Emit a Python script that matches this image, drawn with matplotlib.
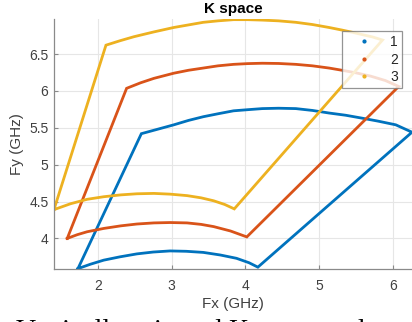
import matplotlib
matplotlib.use("Agg")
import matplotlib.pyplot as plt
from matplotlib.lines import Line2D

plt.rcParams["font.family"] = ["Liberation Sans", "DejaVu Sans"]

# K-space outlines, walked round each shape:
# bottom arc (left -> right), right edge, top arc (right -> left), back to start
fx_1 = [1.73, 1.90, 2.08, 2.30, 2.53, 2.75, 2.98, 3.20, 3.43, 3.66, 3.88, 4.05, 4.17,
        6.26, 6.15, 6.04, 5.80, 5.585, 5.36, 5.135, 4.91, 4.685, 4.45, 4.23, 4.03,
        3.84, 3.63, 3.43, 3.23, 3.03, 2.81, 2.59, 1.73]
fy_1 = [3.59, 3.65, 3.705, 3.75, 3.79, 3.815, 3.83, 3.825, 3.81, 3.775, 3.73, 3.67, 3.61,
        5.44, 5.49, 5.54, 5.59, 5.63, 5.67, 5.70, 5.735, 5.76, 5.765, 5.76, 5.745,
        5.73, 5.69, 5.65, 5.60, 5.54, 5.48, 5.42, 3.59]

fx_2 = [1.585, 1.72, 1.855, 2.08, 2.31, 2.53, 2.76, 2.98, 3.21, 3.40, 3.57, 3.80, 4.02,
        6.08, 5.90, 5.70, 5.50, 5.31, 5.135, 4.91, 4.685, 4.45, 4.23, 4.03,
        3.84, 3.63, 3.43, 3.23, 3.03, 2.76, 2.58, 2.39, 1.585]
fy_2 = [4.00, 4.05, 4.09, 4.135, 4.17, 4.195, 4.21, 4.215, 4.21, 4.19, 4.16, 4.10, 4.02,
        6.06, 6.14, 6.20, 6.245, 6.28, 6.31, 6.34, 6.36, 6.372, 6.375, 6.37,
        6.36, 6.34, 6.31, 6.28, 6.24, 6.17, 6.11, 6.035, 4.00]

fx_3 = [1.405, 1.63, 1.855, 2.08, 2.31, 2.53, 2.76, 2.98, 3.21, 3.40, 3.57, 3.72, 3.85,
        5.86, 5.73, 5.60, 5.45, 5.31, 5.135, 4.91, 4.685, 4.45, 4.23, 4.03,
        3.84, 3.63, 3.43, 3.23, 3.03, 2.76, 2.49, 2.30, 2.11, 1.405]
fy_3 = [4.39, 4.47, 4.53, 4.565, 4.59, 4.605, 4.61, 4.60, 4.58, 4.55, 4.51, 4.46, 4.40,
        6.69, 6.73, 6.76, 6.795, 6.825, 6.86, 6.90, 6.93, 6.95, 6.96, 6.966,
        6.966, 6.95, 6.93, 6.895, 6.86, 6.80, 6.735, 6.68, 6.62, 4.39]

labels = ["1", "2", "3"]
colors = ["#0072BD", "#D95319", "#EDB120"]

x_ticks = [2, 3, 4, 5, 6]
y_ticks = [4, 4.5, 5, 5.5, 6, 6.5]
y_tick_labels = ["4", "4.5", "5", "5.5", "6", "6.5"]

fig = plt.figure(figsize=(4.12, 3.22), dpi=100)
ax = fig.add_axes([0.131, 0.1646, 0.869, 0.7764])

for xs, ys, c in zip([fx_1, fx_2, fx_3], [fy_1, fy_2, fy_3], colors):
    ax.plot(xs, ys, color=c, lw=2.0, solid_joinstyle="miter")

ax.set_xlim(1.405, 6.26)
ax.set_ylim(3.585, 6.975)
ax.set_xticks(x_ticks)
ax.set_yticks(y_ticks)
ax.set_yticklabels(y_tick_labels)

ax.grid(True, color="#e6e6e6", lw=0.8)
ax.set_axisbelow(True)
for side in ["top", "right"]:
    ax.spines[side].set_visible(False)
for side in ["left", "bottom"]:
    ax.spines[side].set_color("#8a8a8a")
    ax.spines[side].set_linewidth(0.9)
ax.tick_params(axis="both", direction="in", length=3, color="#8a8a8a",
               labelsize=10, labelcolor="#404040")
ax.tick_params(axis="x", pad=7)
ax.tick_params(axis="y", pad=4)

ax.set_xlabel("Fx (GHz)", fontsize=11, color="#404040", labelpad=3)
ax.set_ylabel("Fy (GHz)", fontsize=11, color="#404040", labelpad=4)
ax.set_title("K space", fontsize=11, fontweight="bold", pad=4)

handles = [Line2D([], [], ls="none", marker=".", ms=4, color=c) for c in colors]
leg = ax.legend(handles, labels, loc="upper left", bbox_to_anchor=(0.804, 0.952),
                borderaxespad=0, fontsize=10, frameon=True, fancybox=False,
                handlelength=2.6, handletextpad=0.6, labelspacing=0.25,
                borderpad=0.3)
leg.get_frame().set_edgecolor("#7a7a7a")
leg.get_frame().set_linewidth(0.9)
for t in leg.get_texts():
    t.set_color("#262626")

# caption of the page, cut off by the bottom edge as in the source
fig.text(0.04, -0.05, "Vertically oriented K space and", fontsize=20,
         family="Liberation Serif", va="baseline", ha="left")

fig.savefig("out.png", dpi=100)
